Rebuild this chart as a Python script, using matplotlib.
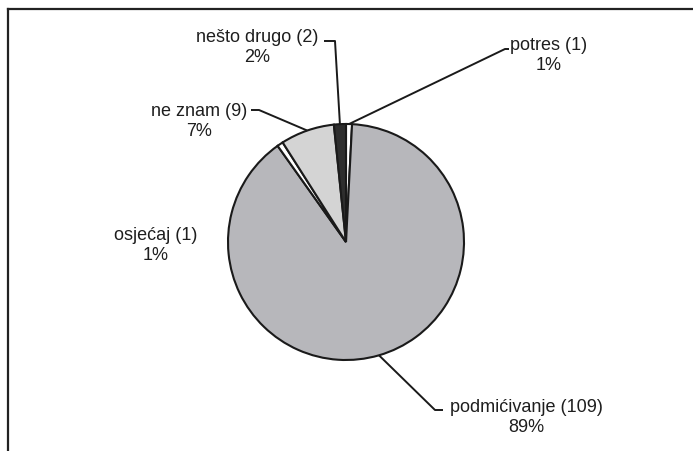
import matplotlib
matplotlib.use("Agg")
import matplotlib.pyplot as plt

categories = ["potres", "podmićivanje", "osjećaj", "ne znam", "nešto drugo"]
counts = [1, 109, 1, 9, 2]
percent_labels = ["1%", "89%", "1%", "7%", "2%"]
colors = ["#ffffff", "#b7b7bb", "#ffffff", "#d4d4d4", "#2e2e2e"]

W, H = 693, 452
fig = plt.figure(figsize=(W / 100, H / 100), dpi=100)
ax = fig.add_axes([0, 0, 1, 1])

cx, cy, r = 346, H - 243, 118
wedges, _ = ax.pie(counts, colors=colors, startangle=90, counterclock=False,
                   center=(cx, cy), radius=r,
                   wedgeprops=dict(edgecolor="#1a1a1a", linewidth=1.5))
ax.set_xlim(0, W)
ax.set_ylim(0, H)
ax.set_aspect("auto")
ax.axis("off")

# label text positions (pixel coords, y from top) and leader elbows
label_pos = {
    "potres": (549, 45),
    "podmićivanje": (526, 408),
    "osjećaj": (156, 236),
    "ne znam": (199, 111),
    "nešto drugo": (257, 38),
}
leaders = {
    "potres": [(505, 50), (509, 50)],
    "podmićivanje": [(435, 411), (443, 411)],
    "ne znam": [(259, 111), (251, 111)],
    "nešto drugo": [(335, 42), (324, 42)],
}

import numpy as np
tc = "#1e1e1e"
for w, cat, n, pct in zip(wedges, categories, counts, percent_labels):
    x, y = label_pos[cat]
    ax.text(x, H - y, f"{cat} ({n})", ha="center", va="center",
            fontsize=13, family="Liberation Sans", color=tc)
    ax.text(x, H - y - 20, pct, ha="center", va="center",
            fontsize=13, family="Liberation Sans", color=tc)
    if cat in leaders:
        mid = np.deg2rad((w.theta1 + w.theta2) / 2)
        px, py = cx + r * np.cos(mid), cy + r * np.sin(mid)
        pts = [(px, py)] + [(a, H - b) for a, b in leaders[cat]]
        xs, ys = zip(*pts)
        ax.plot(xs, ys, color="#1a1a1a", linewidth=1.4, solid_capstyle="butt")

# frame (top and left)
ax.plot([8, W], [H - 10, H - 10], color="#222222", linewidth=1.6)
ax.plot([8, 8], [H - 10, 0], color="#222222", linewidth=1.6)

fig.savefig("out.png", dpi=100)
